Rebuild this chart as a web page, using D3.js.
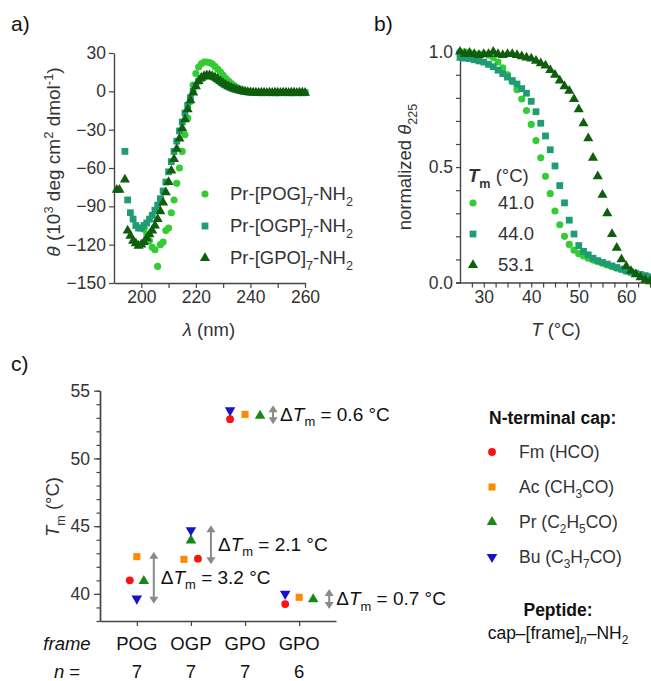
<!DOCTYPE html>
<meta charset="utf-8">
<script src="https://cdn.jsdelivr.net/npm/d3@7"></script>
<style>
  body { margin: 0; background: #fff; }
  svg { display: block; font-family: "Liberation Sans", Arial, sans-serif; }
</style>
<div id="fig"></div>
<script>

// ---- a) CD spectra : [wavelength (nm), theta (10^3 deg cm2 dmol-1)]
var cdPOG = [[201,-108],[202,-112],[203,-117],[204,-122],[205,-124],[206,-137],[207,-120],[208,-118],
  [209,-109],[210,-107],[211,-95],[212,-85],[213,-72],[214,-60],[215,-47],[216,-34],[217,-21],[218,-8],
  [219,5],[220,14],[221,19],[222,21.5],[223,23],[224,23],[225,22.5],[226,21.5],[227,19.5],[228,17.5],
  [229,15],[230,12.5],[231,10],[232,8],[233,6],[234,4.5],[235,3],[236,2],[237,1],[238,0.3],[239,-0.2],
  [240,-0.5],[241,-0.8],[242,-1],[243,-1],[244,-1.1],[245,-1],[246,-1],[247,-1.2],[248,-1],[249,-1],
  [250,-1.1],[251,-1],[252,-1],[253,-1.2],[254,-1],[255,-1.1],[256,-1],[257,-1],[258,-1.2],[259,-1],[260,-1.1]];
var cdOGP = [[194,-47],[195,-85],[196,-95],[197,-100],[198,-105],[199,-107],[200,-107],[201,-105],
  [202,-103],[203,-100],[204,-97],[205,-93],[206,-89],[207,-84],[208,-78],[209,-71],[210,-63],[211,-55],
  [212,-47],[213,-39],[214,-31],[215,-24],[216,-17],[217,-11],[218,-5],[219,0],[220,4.5],[221,8],
  [222,10],[223,11.5],[224,12],[225,12],[226,11.5],[227,10.5],[228,9],[229,7.5],[230,6],[231,4.8],
  [232,3.7],[233,2.8],[234,2],[235,1.3],[236,0.7],[237,0.2],[238,-0.2],[239,-0.5],[240,-0.7],[241,-0.9],
  [242,-1],[243,-1],[244,-1.1],[245,-1],[246,-1.1],[247,-1],[248,-1],[249,-1.2],[250,-1],[251,-1.1],
  [252,-1],[253,-1],[254,-1.1],[255,-1],[256,-1.2],[257,-1],[258,-1],[259,-1.1],[260,-1]];
var cdGPO = [[191,-77],[192,-77],[194,-69],[195,-109],[196,-113],[197,-117],[198,-119],[199,-121],
  [200,-120],[201,-118],[202,-115],[203,-112],[204,-109],[205,-105],[206,-100],[207,-94],[208,-87],
  [209,-79],[210,-71],[211,-62],[212,-53],[213,-45],[214,-37],[215,-29],[216,-22],[217,-14],[218,-7],
  [219,-1],[220,4],[221,8],[222,10.5],[223,12],[224,12.5],[225,12.5],[226,12],[227,11],[228,9.5],
  [229,8],[230,6.5],[231,5],[232,4],[233,3],[234,2],[235,1.3],[236,0.7],[237,0.2],[238,-0.2],[239,-0.5],
  [240,-0.7],[241,-0.9],[242,-1],[243,-1.1],[244,-1],[245,-1],[246,-1.1],[247,-1],[248,-1.2],[249,-1],
  [250,-1],[251,-1.1],[252,-1],[253,-1],[254,-1.2],[255,-1],[256,-1],[257,-1.1],[258,-1],[259,-1],[260,-1.1]];
var cdNames = ["POG", "OGP", "GPO"];

// ---- b) thermal melts : [T (°C), normalized theta225]
var meltPOG = [[25,1],[26,1],[27,0.995],[28,0.99],[29,0.99],[30,0.99],[31,0.985],[32,0.975],[33,0.955],
  [34,0.93],[35,0.9],[36,0.87],[37,0.835],[38,0.795],[39,0.745],[40,0.685],[41,0.615],[42,0.54],
  [43,0.46],[44,0.385],[45,0.31],[46,0.25],[47,0.2],[48,0.165],[49,0.14],[50,0.125],[51,0.115],
  [52,0.105],[53,0.097],[54,0.09],[55,0.083],[56,0.076],[57,0.069],[58,0.062],[59,0.056],[60,0.05],
  [61,0.044],[62,0.038],[63,0.032],[64,0.026],[65,0.02]];
var meltOGP = [[25,0.975],[26,0.972],[27,0.97],[28,0.965],[29,0.96],[30,0.955],[31,0.945],[32,0.935],
  [33,0.92],[34,0.905],[35,0.89],[36,0.875],[37,0.86],[38,0.84],[39,0.82],[40,0.785],[41,0.74],[42,0.69],
  [43,0.635],[44,0.575],[45,0.505],[46,0.42],[47,0.345],[48,0.27],[49,0.21],[50,0.16],[51,0.135],
  [52,0.12],[53,0.105],[54,0.095],[55,0.087],[56,0.08],[57,0.072],[58,0.065],[59,0.058],[60,0.05],
  [61,0.045],[62,0.04],[63,0.035],[64,0.03],[65,0.025]];
var meltGPO = [[25,1],[26,0.99],[27,0.995],[28,0.99],[29,0.985],[30,0.99],[31,0.99],[32,1],[33,0.99],
  [34,0.985],[35,0.99],[36,0.99],[37,0.985],[38,0.98],[39,0.975],[40,0.97],[41,0.96],[42,0.95],[43,0.94],
  [44,0.92],[45,0.9],[46,0.875],[47,0.85],[48,0.83],[49,0.795],[50,0.75],[51,0.69],[52,0.625],[53,0.54],
  [54,0.46],[55,0.38],[56,0.3],[57,0.21],[58,0.15],[59,0.1],[60,0.07],[61,0.05],[62,0.035],[63,0.022],
  [64,0.012],[65,0.005]];
var meltTm = ["41.0", "44.0", "53.1"];

// ---- c) Tm by cap and frame
var frames = ["POG", "OGP", "GPO", "GPO"];
var repeats = ["7", "7", "7", "6"];
var tmFm = [41.0, 42.6, 52.9, 39.25];
var tmAc = [42.75, 42.55, 53.25, 39.75];
var tmPr = [40.95, 43.95, 53.15, 39.6];
var tmBu = [39.65, 44.7, 53.55, 40.0];
var deltaTm = ["3.2", "2.1", "0.6", "0.7"];
var capLabels = [
  [["Fm (HCO)"]],
  [["Ac (CH"], ["3", "sub"], ["CO)"]],
  [["Pr (C"], ["2", "sub"], ["H"], ["5", "sub"], ["CO)"]],
  [["Bu (C"], ["3", "sub"], ["H"], ["7", "sub"], ["CO)"]]
];

// ---- styling
var greens = ["#33cc33", "#1f9c74", "#0e5e0e"];
var capColors = ["#ff1010", "#ff8a00", "#148a14", "#1414cc"];
// horizontal shift (px) of each cap marker inside a frame group, and of the arrow
var capShift = [[-7, 7, -15, -14], [0, -7, 0, 0], [7, 0, 15, 14], [0, 0, -15, -14]];
var arrowShift = [17, 20, 28, 30];

var svg = d3.select("#fig").append("svg").attr("width", 651).attr("height", 681);

function rich(g, parts, size) {
  var t = g.append("text").attr("font-size", size);
  var shift = 0;
  parts.forEach(function(p) {
    var k = (p[1] || "").split(" ");
    var s = t.append("tspan").text(p[0]);
    var target = 0;
    if (k.indexOf("sub") >= 0) target = size * 0.3;
    if (k.indexOf("sup") >= 0) target = -size * 0.38;
    if (target !== shift) s.attr("dy", target - shift);
    shift = target;
    if (target !== 0) s.attr("font-size", size * 0.68);
    if (k.indexOf("it") >= 0) s.attr("font-style", "italic");
    if (k.indexOf("bold") >= 0) s.attr("font-weight", "bold");
  });
  return t;
}

function styleAxis(g) {
  g.select(".domain").attr("stroke", "#444").attr("stroke-width", 1.4);
  g.selectAll(".tick line").attr("stroke", "#444").attr("stroke-width", 1.2);
  g.selectAll(".tick text").attr("fill", "#333").attr("font-size", 17.5)
    .attr("font-family", "Liberation Sans, Arial, sans-serif");
}

var symC = d3.symbol(d3.symbolCircle, 40), symS = d3.symbol(d3.symbolSquare, 46),
    symT = d3.symbol(d3.symbolTriangle, 44);
var shapes = [symC, symS, symT];

// ================= panel a
var xA = d3.scaleLinear().domain([190, 260]).range([114, 305]);
var yA = d3.scaleLinear().domain([-150, 30]).range([283, 53]);
var gA = svg.append("g");

gA.append("g").attr("transform", "translate(0,283)")
  .call(d3.axisBottom(xA).tickValues([200, 210, 220, 230, 240, 250, 260]).tickSize(5).tickSizeOuter(0)
    .tickFormat(function(d) { return d % 20 === 0 ? d : ""; }))
  .call(styleAxis);
gA.append("g").attr("transform", "translate(114,0)")
  .call(d3.axisLeft(yA).tickValues(d3.range(-150, 31, 30)).tickSize(5).tickSizeOuter(0))
  .call(styleAxis);

[cdPOG, cdOGP, cdGPO].forEach(function(ser, i) {
  gA.append("g").selectAll("path").data(ser).enter().append("path")
    .attr("d", shapes[i])
    .attr("transform", function(d) { return "translate(" + xA(d[0]) + "," + yA(d[1]) + ")"; })
    .attr("fill", greens[i]);
});

cdNames.forEach(function(n, i) {
  var yy = 194 + i * 32;
  gA.append("path").attr("d", shapes[i]).attr("fill", greens[i])
    .attr("transform", "translate(205," + yy + ")");
  rich(gA, [["Pr-[" + n + "]"], ["7", "sub"], ["-NH"], ["2", "sub"]], 18.5)
    .attr("x", 230).attr("y", yy + 6).attr("fill", "#333");
});

rich(gA, [["θ", "it"], [" (10"], ["3", "sup"], [" deg cm"], ["2", "sup"], [" dmol"], ["-1", "sup"], [")"]], 19)
  .attr("text-anchor", "middle").attr("fill", "#333")
  .attr("transform", "translate(60,162) rotate(-90)");
rich(gA, [["λ", "it"], [" (nm)"]], 18.5).attr("text-anchor", "middle").attr("fill", "#333")
  .attr("x", 209).attr("y", 336);
gA.append("text").text("a)").attr("x", 11).attr("y", 31).attr("font-size", 21).attr("fill", "#111");

// ================= panel b
var xB = d3.scaleLinear().domain([25, 65]).range([460, 650]);
var yB = d3.scaleLinear().domain([0, 1]).range([282.5, 51.7]);
var gB = svg.append("g");

gB.append("g").attr("transform", "translate(0,282.5)")
  .call(d3.axisBottom(xB).tickValues(d3.range(27.5, 65.1, 2.5)).tickSize(5).tickSizeOuter(0)
    .tickFormat(function(d) { return d % 10 === 0 ? d : ""; }))
  .call(styleAxis);
gB.append("g").attr("transform", "translate(460,0)")
  .call(d3.axisLeft(yB).tickValues(d3.range(0, 1.01, 0.1)).tickSizeOuter(0)
    .tickSize(4).tickFormat(function(d) { return Math.abs(d * 2 - Math.round(d * 2)) < 1e-6 ? d3.format(".1f")(d) : ""; }))
  .call(styleAxis);

[meltPOG, meltOGP, meltGPO].forEach(function(ser, i) {
  gB.append("g").selectAll("path").data(ser).enter().append("path")
    .attr("d", shapes[i])
    .attr("transform", function(d) { return "translate(" + xB(d[0]) + "," + yB(d[1]) + ")"; })
    .attr("fill", greens[i]);
});

rich(gB, [["T", "it bold"], ["m", "bold sub"], [" (°C)"]], 18.5).attr("x", 468).attr("y", 182).attr("fill", "#333");
meltTm.forEach(function(t, i) {
  var yy = 203 + i * 31;
  gB.append("path").attr("d", shapes[i]).attr("fill", greens[i])
    .attr("transform", "translate(473," + yy + ")");
  gB.append("text").text(t).attr("x", 498).attr("y", yy + 6).attr("font-size", 18.5).attr("fill", "#333");
});

rich(gB, [["normalized "], ["θ", "it"], ["225", "sub"]], 18.5)
  .attr("text-anchor", "middle").attr("fill", "#333")
  .attr("transform", "translate(411,167) rotate(-90)");
rich(gB, [["T", "it"], [" (°C)"]], 18.5).attr("text-anchor", "middle").attr("fill", "#333")
  .attr("x", 556).attr("y", 336);
gB.append("text").text("b)").attr("x", 374).attr("y", 31).attr("font-size", 21).attr("fill", "#111");

// ================= panel c
var xC = d3.scaleLinear().domain([0.32, 4.68]).range([100, 336]);
var yC = d3.scaleLinear().domain([38, 55]).range([621, 390.7]);
var gC = svg.append("g");

gC.append("g").attr("transform", "translate(0,621)")
  .call(d3.axisBottom(xC).tickValues([1, 2, 3, 4]).tickSize(5).tickSizeOuter(0).tickFormat(""))
  .call(styleAxis);
gC.append("g").attr("transform", "translate(100,0)")
  .call(d3.axisLeft(yC).tickValues(d3.range(38, 55.1, 1)).tickSize(3.5).tickSizeOuter(0).tickFormat(""))
  .call(styleAxis);
gC.append("g").attr("transform", "translate(100,0)")
  .call(d3.axisLeft(yC).tickValues([40, 45, 50, 55]).tickSize(6).tickSizeOuter(0).tickPadding(4))
  .call(styleAxis);

var cSym = [d3.symbol(d3.symbolCircle, 48), d3.symbol(d3.symbolSquare, 50),
            d3.symbol(d3.symbolTriangle, 48), d3.symbol(d3.symbolTriangle, 48)];
var cRot = [0, 0, 0, 180];
var tmSets = [tmFm, tmAc, tmPr, tmBu];

frames.forEach(function(f, j) {
  var cx = xC(j + 1);
  var vals = tmSets.map(function(s) { return s[j]; });
  // double arrow over the spread
  var ax = cx + arrowShift[j];
  var yTop = yC(d3.max(vals)) - 5, yBot = yC(d3.min(vals)) + 5;
  var hw = 4.5, hh = 7;
  gC.append("line").attr("x1", ax).attr("x2", ax).attr("y1", yTop + hh - 1).attr("y2", yBot - hh + 1)
    .attr("stroke", "#8a8a8a").attr("stroke-width", 2);
  gC.append("path").attr("fill", "#8a8a8a")
    .attr("d", "M" + ax + "," + yTop + "L" + (ax + hw) + "," + (yTop + hh) + "L" + (ax - hw) + "," + (yTop + hh) + "Z" +
               "M" + ax + "," + yBot + "L" + (ax + hw) + "," + (yBot - hh) + "L" + (ax - hw) + "," + (yBot - hh) + "Z");
  rich(gC, [["Δ"], ["T", "it"], ["m", "sub"], [" = " + deltaTm[j] + " °C"]], 19)
    .attr("x", ax + 7).attr("y", (yTop + yBot) / 2 + 6).attr("fill", "#111");

  tmSets.forEach(function(s, k) {
    gC.append("path").attr("d", cSym[k]).attr("fill", capColors[k])
      .attr("transform", "translate(" + (cx + capShift[k][j]) + "," + yC(s[j]) + ") rotate(" + cRot[k] + ")");
  });

  gC.append("text").text(f).attr("x", cx).attr("y", 650).attr("text-anchor", "middle")
    .attr("font-size", 18.5).attr("fill", "#111");
  gC.append("text").text(repeats[j]).attr("x", cx).attr("y", 678).attr("text-anchor", "middle")
    .attr("font-size", 18.5).attr("fill", "#111");
});

gC.append("text").text("frame").attr("x", 67).attr("y", 650).attr("text-anchor", "middle")
  .attr("font-size", 18.5).attr("font-style", "italic").attr("fill", "#111");
rich(gC, [["n", "it"], [" ="]], 18.5).attr("x", 67).attr("y", 678).attr("text-anchor", "middle").attr("fill", "#111");

rich(gC, [["T", "it"], ["m", "sub"], [" (°C)"]], 18.5).attr("text-anchor", "middle").attr("fill", "#333")
  .attr("transform", "translate(59,507) rotate(-90)");
gC.append("text").text("c)").attr("x", 11).attr("y", 371).attr("font-size", 21).attr("fill", "#111");

// legend
gC.append("text").text("N-terminal cap:").attr("x", 489).attr("y", 424).attr("font-size", 17.5)
  .attr("font-weight", "bold").attr("fill", "#111");
capLabels.forEach(function(lbl, k) {
  var yy = 452 + k * 35;
  gC.append("path").attr("d", cSym[k]).attr("fill", capColors[k])
    .attr("transform", "translate(492," + yy + ") rotate(" + cRot[k] + ")");
  rich(gC, lbl, 17.5).attr("x", 519).attr("y", yy + 6).attr("fill", "#333");
});
gC.append("text").text("Peptide:").attr("x", 558).attr("y", 616).attr("text-anchor", "middle")
  .attr("font-size", 17.5).attr("font-weight", "bold").attr("fill", "#111");
rich(gC, [["cap–[frame]"], ["n", "it sub"], ["–NH"], ["2", "sub"]], 17.5)
  .attr("x", 558).attr("y", 639).attr("text-anchor", "middle").attr("fill", "#111");

</script>
